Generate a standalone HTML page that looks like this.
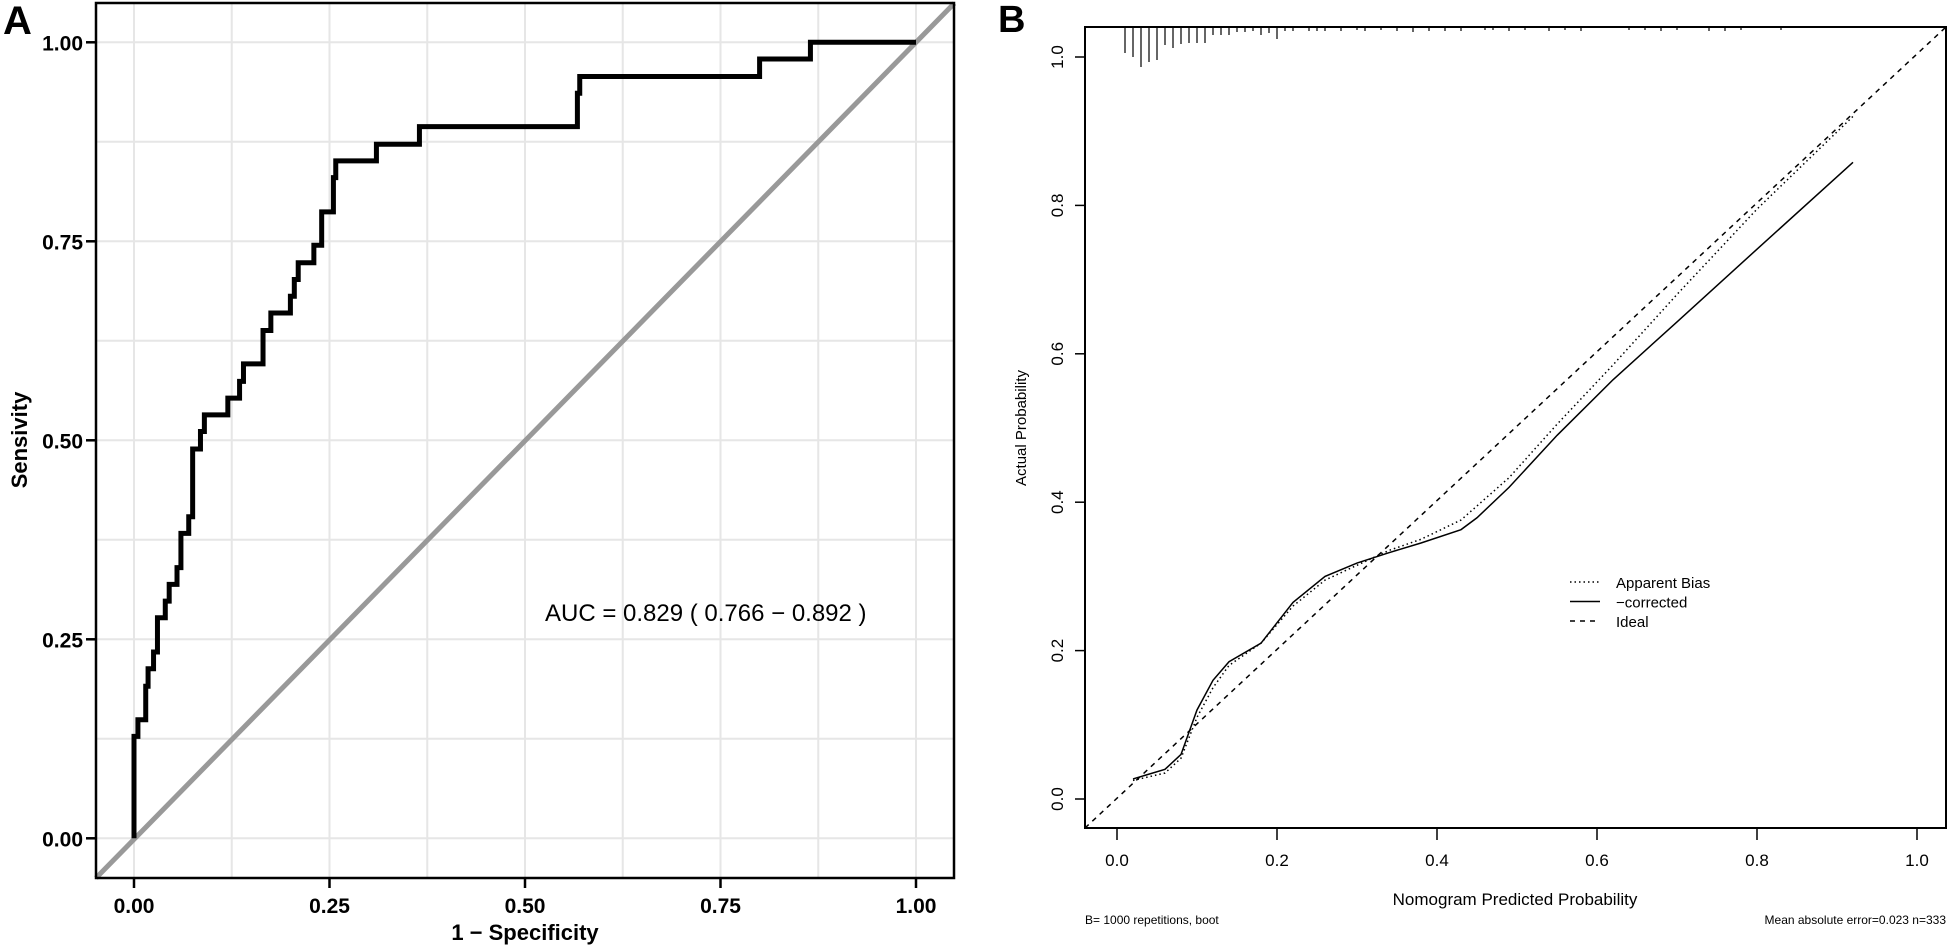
<!DOCTYPE html>
<html><head><meta charset="utf-8"><style>
html,body{margin:0;padding:0;background:#fff;}
svg{display:block;}
</style></head><body>
<svg id="fig" width="1950" height="945" xmlns="http://www.w3.org/2000/svg">
<g id="pa"></g>
<g id="pb"></g>
</svg>
<script>
// ---------- Panel A data ----------
const rocFpr = [0,0,0.005,0.015,0.018,0.025,0.03,0.04,0.045,0.055,0.06,0.07,0.075,0.085,0.09,0.12,0.135,0.14,0.165,0.175,0.2,0.205,0.21,0.23,0.24,0.255,0.258,0.31,0.365,0.567,0.57,0.8,0.865,1.0];
const rocTpr = [0,0.128,0.149,0.191,0.213,0.234,0.277,0.298,0.319,0.34,0.383,0.404,0.489,0.511,0.532,0.553,0.574,0.596,0.638,0.66,0.681,0.702,0.723,0.745,0.787,0.83,0.851,0.872,0.894,0.936,0.957,0.979,1.0,1.0];
const aTicks = [0,0.25,0.5,0.75,1];
const aTickLabels = ["0.00","0.25","0.50","0.75","1.00"];
const aucLabel = "AUC = 0.829 ( 0.766 − 0.892 )";

// ---------- Panel B data ----------
const calX = [0.02,0.06,0.08,0.10,0.12,0.14,0.18,0.22,0.26,0.30,0.34,0.38,0.43,0.45,0.49,0.55,0.62,0.70,0.80,0.92];
const corrected = [0.027,0.04,0.06,0.12,0.16,0.185,0.21,0.265,0.30,0.318,0.332,0.345,0.363,0.379,0.42,0.49,0.565,0.643,0.741,0.858];
const apparent = [0.025,0.035,0.055,0.11,0.15,0.18,0.21,0.26,0.295,0.315,0.335,0.35,0.376,0.395,0.433,0.505,0.585,0.68,0.795,0.92];
const rugX = [0.01,0.02,0.03,0.04,0.05,0.06,0.07,0.08,0.09,0.10,0.11,0.12,0.13,0.14,0.15,0.16,0.17,0.18,0.19,0.20,0.21,0.22,0.24,0.25,0.26,0.28,0.30,0.31,0.33,0.35,0.37,0.39,0.41,0.43,0.46,0.47,0.49,0.51,0.54,0.56,0.58,0.64,0.66,0.68,0.70,0.74,0.76,0.78,0.83];
const rugCount = [26,30,40,35,33,18,21,17,16,16,16,8,8,8,5,5,4,8,6,12,4,4,4,4,4,4,3,4,3,4,5,4,4,4,3,3,4,3,4,3,4,3,3,4,3,4,4,3,3];
const bTicks = [0,0.2,0.4,0.6,0.8,1.0];
const bTickLabels = ["0.0","0.2","0.4","0.6","0.8","1.0"];

const NS="http://www.w3.org/2000/svg";
function mk(parent,tag,attrs,text){const e=document.createElementNS(NS,tag);for(const k in attrs)e.setAttribute(k,attrs[k]);if(text!==undefined)e.textContent=text;parent.appendChild(e);return e;}

// ===== Panel A =====
const pa=document.getElementById('pa');
const ax=v=>134+v*782, ay=v=>838.3-v*796;
const AL=96,AR=954,AT=3,AB=878;
for(let v=0; v<=1.0001; v+=0.125){
  const g1=mk(pa,'line',{x1:ax(v),x2:ax(v),y1:AT,y2:AB,stroke:'#e6e6e6','stroke-width':2});
  
  const g2=mk(pa,'line',{x1:AL,x2:AR,y1:ay(v),y2:ay(v),stroke:'#e6e6e6','stroke-width':2});
  
}
const dg=mk(pa,'line',{x1:AL,y1:AB,x2:ax(1.049),y2:ay(1.049),stroke:'#999','stroke-width':5});

let d='M'+ax(rocFpr[0])+','+ay(rocTpr[0]);
for(let i=1;i<rocFpr.length;i++){d+=' L'+ax(rocFpr[i])+','+ay(rocTpr[i-1])+' L'+ax(rocFpr[i])+','+ay(rocTpr[i]);}
const rc=mk(pa,'path',{d:d,fill:'none',stroke:'#000','stroke-width':5,'stroke-linejoin':'miter'});

const fa=mk(pa,'rect',{x:AL,y:AT,width:AR-AL,height:AB-AT,fill:'none',stroke:'#000','stroke-width':2.5});

aTicks.forEach((v,i)=>{
  mk(pa,'line',{x1:ax(v),x2:ax(v),y1:AB,y2:AB+10,stroke:'#000','stroke-width':2.5});
  const t=mk(pa,'text',{x:ax(v),y:913,'text-anchor':'middle','font-family':'Liberation Sans, sans-serif','font-weight':'bold','font-size':21},aTickLabels[i]);
  
  mk(pa,'line',{x1:AL-10,x2:AL,y1:ay(v),y2:ay(v),stroke:'#000','stroke-width':2.5});
  const u=mk(pa,'text',{x:83,y:ay(v)+8,'text-anchor':'end','font-family':'Liberation Sans, sans-serif','font-weight':'bold','font-size':21},aTickLabels[i]);
  
});
const xt=mk(pa,'text',{x:525,y:940,'text-anchor':'middle','font-family':'Liberation Sans, sans-serif','font-weight':'bold','font-size':22},'1 − Specificity');

const yt=mk(pa,'text',{x:0,y:0,transform:'translate(27,440) rotate(-90)','text-anchor':'middle','font-family':'Liberation Sans, sans-serif','font-weight':'bold','font-size':22},'Sensivity');

const au=mk(pa,'text',{x:545,y:621,'font-family':'Liberation Sans, sans-serif','font-size':24},aucLabel);

const la=mk(pa,'text',{x:3,y:34,'font-family':'Liberation Sans, sans-serif','font-weight':'bold','font-size':40},'A');


// ===== Panel B =====
const pb=document.getElementById('pb');
const bx=v=>1117+v*800, by=v=>799-v*742;
const BL=1085,BR=1946,BT=27,BB=828;
const font='Liberation Sans, sans-serif';
const il=mk(pb,'line',{x1:BL,y1:BB,x2:BR,y2:BT,stroke:'#000','stroke-width':1.5,'stroke-dasharray':'5,5'});

function poly(ys){return calX.map((v,i)=>bx(v)+','+by(ys[i])).join(' ');}
const ap=mk(pb,'polyline',{points:poly(apparent),fill:'none',stroke:'#000','stroke-width':1.5,'stroke-dasharray':'1.5,3'});

const bc=mk(pb,'polyline',{points:poly(corrected),fill:'none',stroke:'#000','stroke-width':1.5});

rugX.forEach((v,i)=>{
  const r=mk(pb,'line',{x1:bx(v),x2:bx(v),y1:BT,y2:BT+rugCount[i],stroke:'#000','stroke-width':1.2});
  
});
const fb=mk(pb,'rect',{x:BL,y:BT,width:BR-BL,height:BB-BT,fill:'none',stroke:'#000','stroke-width':2});

bTicks.forEach((v,i)=>{
  mk(pb,'line',{x1:bx(v),x2:bx(v),y1:BB,y2:BB+12,stroke:'#000','stroke-width':1.5});
  const t=mk(pb,'text',{x:bx(v),y:866,'text-anchor':'middle','font-family':font,'font-size':17},bTickLabels[i]);
  
  mk(pb,'line',{x1:BL-10,x2:BL,y1:by(v),y2:by(v),stroke:'#000','stroke-width':1.5});
  const u=mk(pb,'text',{x:0,y:0,transform:'translate(1063,'+by(v)+') rotate(-90)','text-anchor':'middle','font-family':font,'font-size':17},bTickLabels[i]);
  
});
const bxt=mk(pb,'text',{x:1515,y:905,'text-anchor':'middle','font-family':font,'font-size':17},'Nomogram Predicted Probability');

const byt=mk(pb,'text',{x:0,y:0,transform:'translate(1026,428) rotate(-90)','text-anchor':'middle','font-family':font,'font-size':15},'Actual Probability');

const f1=mk(pb,'text',{x:1085,y:924,'font-family':font,'font-size':12},'B= 1000 repetitions, boot');

const f2=mk(pb,'text',{x:1946,y:924,'text-anchor':'end','font-family':font,'font-size':12},'Mean absolute error=0.023 n=333');

const lg=mk(pb,'g',{});

const legNames=['Apparent Bias','−corrected','Ideal'];
const legDash=['1.5,3','none','5,5'];
legNames.forEach((n,i)=>{
  const y=582+i*19.5;
  const l=mk(lg,'line',{x1:1570,x2:1600,y1:y,y2:y,stroke:'#000','stroke-width':1.5,'stroke-dasharray':legDash[i]});
  
  const t=mk(lg,'text',{x:1616,y:y+6,'font-family':font,'font-size':15},n);
  
});
const lb=mk(pb,'text',{x:998,y:32,'font-family':font,'font-weight':'bold','font-size':38},'B');

</script>
</body></html>
